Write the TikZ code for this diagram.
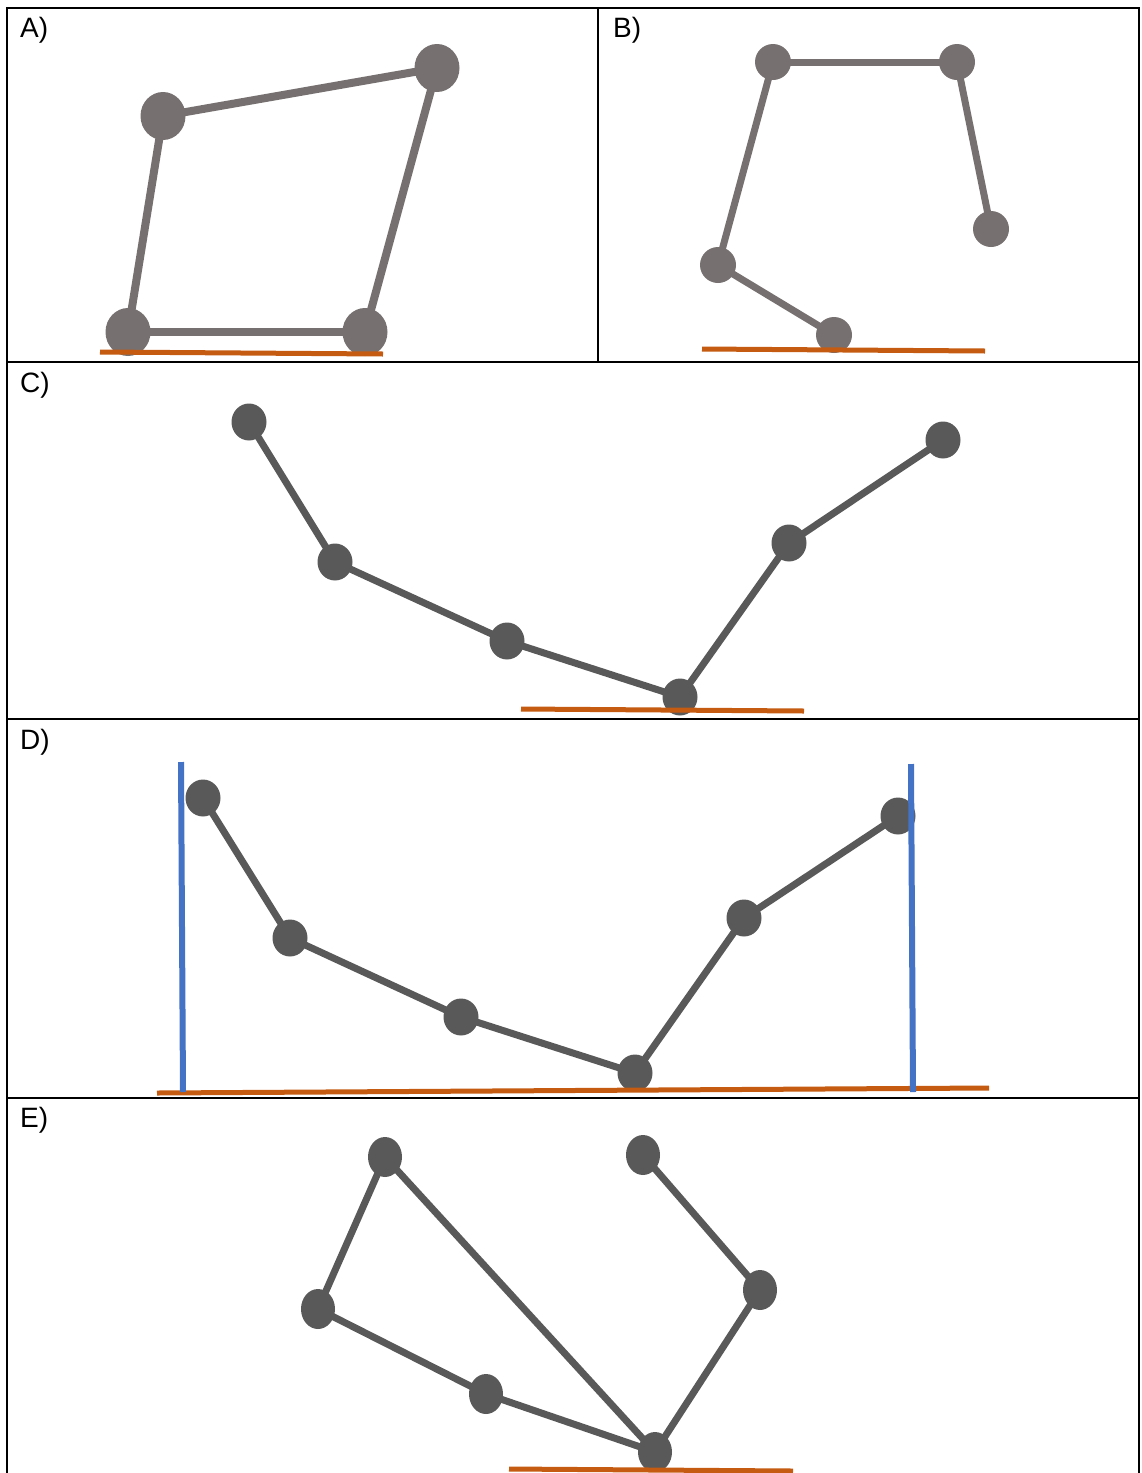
\documentclass[tikz,border=0pt]{standalone}
\usepackage{fontspec}
\setmainfont{Liberation Sans}
\usetikzlibrary{shapes.geometric,backgrounds}
\definecolor{lgray}{HTML}{767170}
\definecolor{dgray}{HTML}{595959}
\definecolor{ground}{HTML}{C55A11}
\definecolor{wallblue}{HTML}{4472C4}
\begin{document}
\begin{tikzpicture}[x=1pt,y=-1pt,
  jointA/.style={ellipse,fill=lgray,inner sep=0pt,minimum width=45pt,minimum height=48pt},
  jointB/.style={ellipse,fill=lgray,inner sep=0pt,minimum width=36pt,minimum height=36pt},
  jointC/.style={ellipse,fill=dgray,inner sep=0pt,minimum width=35pt,minimum height=37pt},
  jointE/.style={ellipse,fill=dgray,inner sep=0pt,minimum width=34pt,minimum height=40pt},
  linkA/.style={draw=lgray,line width=8pt},
  linkB/.style={draw=lgray,line width=7pt},
  linkC/.style={draw=dgray,line width=7pt},
  groundline/.style={draw=ground,line width=5pt},
  wall/.style={draw=wallblue,line width=6pt},
  frame/.style={draw=black,line width=2.8pt},
  panellabel/.style={anchor=base west,inner sep=0pt,font=\fontsize{28}{32}\selectfont}
]
\useasboundingbox (0,0) rectangle (1141,1473);
% frame
\draw[frame] (7,1473) -- (7,8) -- (1139,8) -- (1139,1473);
\draw[frame] (7,362) -- (1139,362);
\draw[frame] (7,719) -- (1139,719);
\draw[frame] (7,1098) -- (1139,1098);
\draw[frame] (598,8) -- (598,362);
% labels
\node[panellabel] (la) at (20,37) {A)};
\node[panellabel] (lb) at (613,37) {B)};
\node[panellabel] (lc) at (20,392) {C)};
\node[panellabel] (ld) at (20,749) {D)};
\node[panellabel] (le) at (20,1127) {E)};

% ---------- A ----------
\coordinate (ga1) at (100,352); \coordinate (ga2) at (383,354);
\node[jointA] (a1) at (128,332) {};
\node[jointA] (a2) at (365,332) {};
\node[jointA] (a3) at (163,116) {};
\node[jointA] (a4) at (437,68) {};
% ---------- B ----------
\coordinate (gb1) at (702,349); \coordinate (gb2) at (985,351);
\node[jointB] (b1) at (773,62) {};
\node[jointB] (b2) at (957,62) {};
\node[jointB] (b3) at (718,265) {};
\node[jointB] (b4) at (834,335) {};
\node[jointB] (b5) at (991,229) {};
% ---------- C ----------
\coordinate (gc1) at (521,709); \coordinate (gc2) at (804,711);
\node[jointC] (c1) at (249,422) {};
\node[jointC] (c2) at (335,562) {};
\node[jointC] (c3) at (507,641) {};
\node[jointC] (c4) at (680,697) {};
\node[jointC] (c5) at (789,543) {};
\node[jointC] (c6) at (943,440) {};
% ---------- D ----------
\coordinate (gd1) at (157,1093); \coordinate (gd2) at (989,1088);
\coordinate (wl1) at (181,762); \coordinate (wl2) at (183,1092);
\coordinate (wr1) at (911,764); \coordinate (wr2) at (913,1092);
\node[jointC] (d1) at (203,798) {};
\node[jointC] (d2) at (290,938) {};
\node[jointC] (d3) at (461,1017) {};
\node[jointC] (d4) at (635,1073) {};
\node[jointC] (d5) at (744,918) {};
\node[jointC] (d6) at (898,816) {};
% ---------- E ----------
\coordinate (ge1) at (509,1469); \coordinate (ge2) at (793,1471);
\node[jointE] (e1) at (385,1157) {};
\node[jointE] (e2) at (318,1309) {};
\node[jointE] (e3) at (486,1394) {};
\node[jointE] (e4) at (655,1452) {};
\node[jointE] (e5) at (760,1290) {};
\node[jointE] (e6) at (643,1155) {};

\begin{pgfonlayer}{background}
\draw[linkA] (a1.center) -- (a2.center);
\draw[linkA] (a1.center) -- (a3.center);
\draw[linkA] (a3.center) -- (a4.center);
\draw[linkA] (a4.center) -- (a2.center);
\draw[linkB] (b1.center) -- (b2.center);
\draw[linkB] (b1.center) -- (b3.center);
\draw[linkB] (b3.center) -- (b4.center);
\draw[linkB] (b2.center) -- (b5.center);
\draw[linkC] (c1.center) -- (c2.center) -- (c3.center) -- (c4.center) -- (c5.center) -- (c6.center);
\draw[linkC] (d1.center) -- (d2.center) -- (d3.center) -- (d4.center) -- (d5.center) -- (d6.center);
\draw[linkC] (e1.center) -- (e2.center) -- (e3.center) -- (e4.center);
\draw[linkC] (e1.center) -- (e4.center);
\draw[linkC] (e4.center) -- (e5.center) -- (e6.center);
\end{pgfonlayer}
% ground and walls on top
\draw[groundline] (ga1) -- (ga2);
\draw[groundline] (gb1) -- (gb2);
\draw[groundline] (gc1) -- (gc2);
\draw[groundline] (gd1) -- (gd2);
\draw[groundline] (ge1) -- (ge2);
\draw[wall] (wl1) -- (wl2);
\draw[wall] (wr1) -- (wr2);
\end{tikzpicture}
\end{document}
